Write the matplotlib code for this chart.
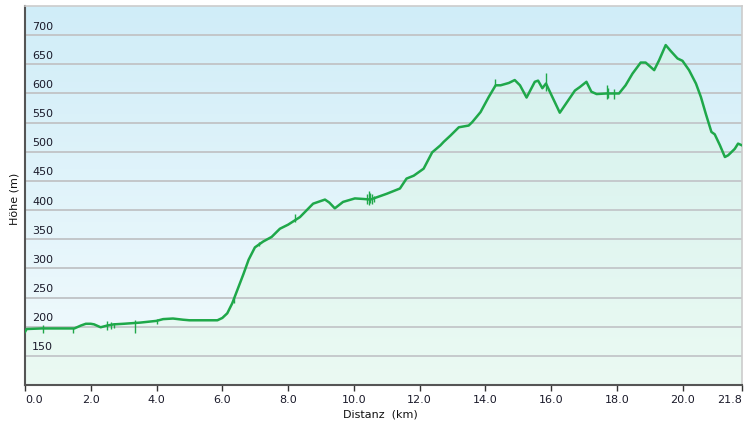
import numpy as np
import matplotlib
matplotlib.use('Agg')
import matplotlib.pyplot as plt
from matplotlib.colors import LinearSegmentedColormap
from matplotlib.transforms import blended_transform_factory

# elevation profile: distance (km) and height (m)
dist_km = [0.0, 0.05, 0.5, 1.0, 1.5, 1.7, 1.85, 2.0, 2.1, 2.3, 2.5, 2.7, 3.0, 3.5,
           4.0, 4.2, 4.5, 4.8, 5.0, 5.5, 5.85, 6.0, 6.15, 6.3, 6.64, 6.8, 6.99, 7.24,
           7.5, 7.75, 8.0, 8.36, 8.76, 9.12, 9.25, 9.42, 9.67, 10.03, 10.3, 10.5, 10.8,
           11.0, 11.4, 11.6, 11.82, 11.97, 12.12, 12.38, 12.63, 12.73, 12.94, 13.19,
           13.49, 13.6, 13.85, 14.1, 14.31, 14.46, 14.71, 14.89, 15.05, 15.25, 15.5,
           15.6, 15.73, 15.84, 16.26, 16.72, 16.87, 17.07, 17.22, 17.38, 17.68, 18.06,
           18.26, 18.47, 18.72, 18.87, 19.13, 19.28, 19.48, 19.63, 19.84, 19.99, 20.19,
           20.4, 20.55, 20.7, 20.87, 20.97, 21.13, 21.28, 21.38, 21.58, 21.68, 21.8]
elev_m = [191, 196, 197, 197, 197, 202, 205, 205, 204, 199, 202, 204, 205, 207,
          210, 213, 214, 212, 211, 211, 211, 215, 223, 240, 290, 315, 336, 346,
          354, 368, 375, 388, 411, 418, 413, 403, 414, 420, 419, 418, 424,
          428, 437, 454, 459, 465, 471, 499, 511, 517, 528, 542,
          545, 551, 568, 594, 614, 614, 618, 623, 614, 593, 620,
          622, 609, 617, 567, 605, 611, 620, 603, 599, 600, 600,
          614, 634, 653, 653, 640, 657, 683, 673, 660, 656, 640,
          617, 594, 565, 534, 530, 511, 491, 494, 505, 514, 511]

# short GPS spikes: position, low and high value
spike_km = [0.56, 1.47, 2.5, 2.6, 2.7, 3.35, 4.0, 6.35, 7.1, 8.2,
            10.40, 10.45, 10.5, 10.55, 10.6, 14.3, 15.84, 17.70, 17.73, 17.9]
spike_lo = [189, 190, 195, 196, 197, 190, 205, 240, 338, 380,
            410, 408, 412, 410, 414, 612, 604, 590, 593, 590]
spike_hi = [203, 198, 210, 208, 206, 212, 214, 250, 345, 394,
            428, 432, 430, 428, 425, 624, 635, 614, 610, 608]

x_ticks = [0.0, 2.0, 4.0, 6.0, 8.0, 10.0, 12.0, 14.0, 16.0, 18.0, 20.0, 21.8]
y_ticks = [150, 200, 250, 300, 350, 400, 450, 500, 550, 600, 650, 700]

fig = plt.figure(figsize=(7.52, 4.25), dpi=100)
ax = fig.add_axes([25 / 752, 40 / 425, 717 / 752, 379 / 425])
ax.set_xlim(0, 21.8)
ax.set_ylim(100, 750)

# background gradient (light blue at top to almost white)
bg_cmap = LinearSegmentedColormap.from_list('bg', ['#f3fbfd', '#d0edf8'])
grad = np.linspace(0, 1, 256).reshape(-1, 1)
ax.imshow(grad, extent=[0, 21.8, 100, 750], origin='lower', aspect='auto',
          cmap=bg_cmap, zorder=0)

# gridlines
for yt in y_ticks:
    ax.axhline(yt, color='#c3c7ca', lw=1.3, zorder=1)

# green gradient fill under the curve
fill = ax.fill_between(dist_km, elev_m, 100, color='none', lw=0, zorder=2)
fill_cmap = LinearSegmentedColormap.from_list('fill', ['#ebfaf2', '#d2f2ec'])
im = ax.imshow(grad, extent=[0, 21.8, 100, 750], origin='lower', aspect='auto',
               cmap=fill_cmap, zorder=2, alpha=0.9)
im.set_clip_path(fill.get_paths()[0], transform=ax.transData)
for yt in y_ticks:
    ax.axhline(yt, color='#c3c7ca', lw=1.3, zorder=2.5)

# profile line and spikes
ax.plot(dist_km, elev_m, color='#1fa84a', lw=1.8, zorder=4, solid_joinstyle='round')
ax.vlines(spike_km, spike_lo, spike_hi, color='#1fa84a', lw=1.0, zorder=4)

# y labels sit inside the plot, just above each gridline
trans = blended_transform_factory(ax.transAxes, ax.transData)
for yt in y_ticks:
    ax.text(0.01, yt + 6, str(yt), transform=trans, fontsize=8, color='#1a1a2a',
            ha='left', va='bottom', zorder=5)
ax.set_yticks([])

ax.set_xticks(x_ticks)
ax.set_xticklabels(['%.1f' % t for t in x_ticks], fontsize=8, color='#1a1a2a')
xlabels = ax.get_xticklabels()
xlabels[0].set_ha('left')
xlabels[-1].set_ha('right')
ax.tick_params(axis='x', direction='out', length=4, width=1, color='#333333', pad=3)

for side in ['top', 'right']:
    ax.spines[side].set_color('#cccccc')
    ax.spines[side].set_linewidth(1.2)
for side in ['left', 'bottom']:
    ax.spines[side].set_color('#555555')
    ax.spines[side].set_linewidth(1.5)

ax.set_ylabel('Höhe (m)', fontsize=8, color='#111111')
ax.yaxis.set_label_coords(-0.008, 0.49)
ax.set_xlabel('Distanz  (km)', fontsize=8, color='#111111')
ax.xaxis.set_label_coords(0.495, -0.065)

fig.savefig('out.png', dpi=100)
